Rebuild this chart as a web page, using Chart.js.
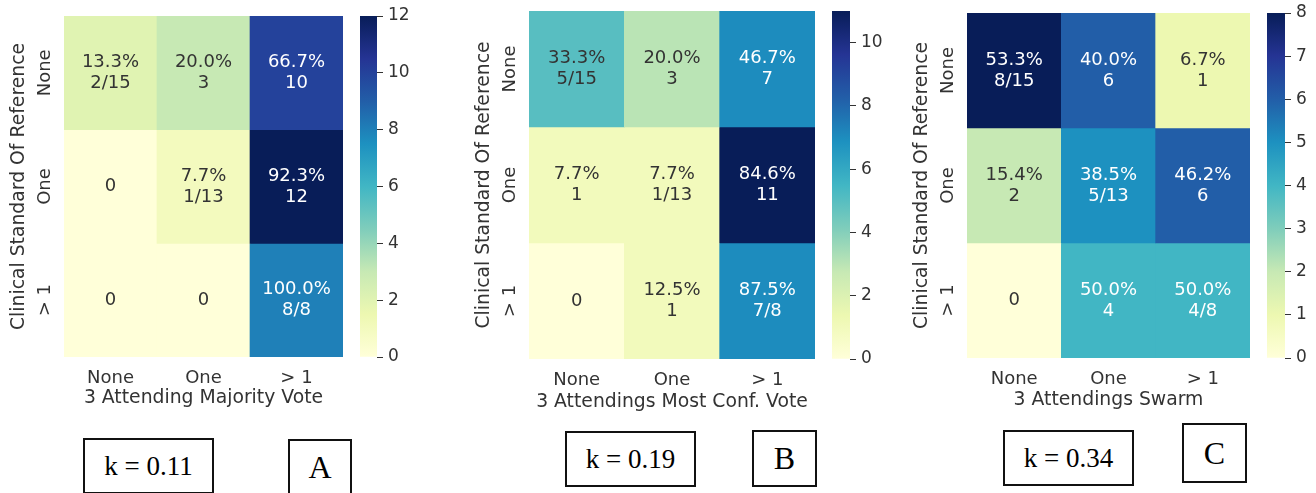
<!DOCTYPE html>
<html>
<head>
<meta charset="utf-8">
<script src="https://cdn.jsdelivr.net/npm/chart.js@4.4.1/dist/chart.umd.min.js"></script>
<style>
html, body { margin: 0; padding: 0; background: #fff; }
body { width: 1316px; height: 493px; position: relative; overflow: hidden; }
canvas { position: absolute; }
.box { position: absolute; box-sizing: border-box; border: 2px solid #111; background: #fff;
  font-family: "Liberation Serif", "Times New Roman", serif; color: #000;
  display: flex; align-items: center; justify-content: center; }
</style>
</head>
<body>
<canvas id="hA"></canvas><canvas id="cA"></canvas>
<canvas id="hB"></canvas><canvas id="cB"></canvas>
<canvas id="hC"></canvas><canvas id="cC"></canvas>
<div class="box" id="kA"></div><div class="box" id="lA"></div>
<div class="box" id="kB"></div><div class="box" id="lB"></div>
<div class="box" id="kC"></div><div class="box" id="lC"></div>
<script>
// ---------------- DATA ----------------
const xCategories = ['None', 'One', '> 1'];
const yCategories = ['None', 'One', '> 1'];

const countsA = [[2, 3, 10], [0, 1, 12], [0, 0, 8]];
const countsB = [[5, 3, 7], [1, 1, 11], [0, 1, 7]];
const countsC = [[8, 6, 1], [2, 5, 6], [0, 4, 4]];

const annotA = [['13.3%\n2/15', '20.0%\n3', '66.7%\n10'], ['0', '7.7%\n1/13', '92.3%\n12'], ['0', '0', '100.0%\n8/8']];
const annotB = [['33.3%\n5/15', '20.0%\n3', '46.7%\n7'], ['7.7%\n1', '7.7%\n1/13', '84.6%\n11'], ['0', '12.5%\n1', '87.5%\n7/8']];
const annotC = [['53.3%\n8/15', '40.0%\n6', '6.7%\n1'], ['15.4%\n2', '38.5%\n5/13', '46.2%\n6'], ['0', '50.0%\n4', '50.0%\n4/8']];

const colorbarMax = [12, 11, 8];
const colorbarStep = [2, 2, 1];

const xTitles = ['3 Attending Majority Vote', '3 Attendings Most Conf. Vote', '3 Attendings Swarm'];
const yTitle = 'Clinical Standard Of Reference';
const kappaLabels = ['k = 0.11', 'k = 0.19', 'k = 0.34'];
const panelLetters = ['A', 'B', 'C'];

// ---------------- LAYOUT / STYLE ----------------
const ylgnbu = ['#ffffd9', '#edf8b1', '#c7e9b4', '#7fcdbb', '#41b6c4', '#1d91c0', '#225ea8', '#253494', '#081d58'];
const textDark = '#333333';
const fontFamily = '"DejaVu Sans", "Liberation Sans", sans-serif';

const panels = [
  { id: 'A', counts: countsA, annot: annotA, heat: { l: 64, r: 343, t: 16, b: 357 }, cb: { l: 360, r: 377, t: 16, b: 357 }, titlePad: 10,
    kbox: { l: 83, t: 438, w: 131, h: 56 }, lbox: { l: 288, t: 439, w: 64, h: 56 } },
  { id: 'B', counts: countsB, annot: annotB, heat: { l: 529, r: 815, t: 11, b: 359 }, cb: { l: 832, r: 850, t: 11, b: 359 }, titlePad: 8,
    kbox: { l: 565, t: 431, w: 131, h: 56 }, lbox: { l: 752, t: 430, w: 65, h: 57 } },
  { id: 'C', counts: countsC, annot: annotC, heat: { l: 967, r: 1250, t: 13, b: 358 }, cb: { l: 1267, r: 1285, t: 13, b: 358 }, titlePad: 9,
    kbox: { l: 1003, t: 430, w: 131, h: 56 }, lbox: { l: 1182, t: 423, w: 65, h: 60 } }
];

function hexToRgb(h) {
  return [parseInt(h.slice(1, 3), 16), parseInt(h.slice(3, 5), 16), parseInt(h.slice(5, 7), 16)];
}
const cmapRgb = ylgnbu.map(hexToRgb);
function cmap(t) {
  t = Math.max(0, Math.min(1, t));
  const p = t * (cmapRgb.length - 1);
  const i = Math.min(Math.floor(p), cmapRgb.length - 2);
  const f = p - i;
  const a = cmapRgb[i], b = cmapRgb[i + 1];
  return [0, 1, 2].map(k => Math.round(a[k] + (b[k] - a[k]) * f));
}
function rgbStr(c) { return 'rgb(' + c[0] + ',' + c[1] + ',' + c[2] + ')'; }
function luminance(c) {
  const lin = c.map(v => { v /= 255; return v <= 0.03928 ? v / 12.92 : Math.pow((v + 0.055) / 1.055, 2.4); });
  return 0.2126 * lin[0] + 0.7152 * lin[1] + 0.0722 * lin[2];
}

const annotPlugin = {
  id: 'cellAnnot',
  afterDatasetsDraw(chart) {
    const ctx = chart.ctx;
    ctx.save();
    ctx.font = '18px ' + fontFamily;
    ctx.textAlign = 'center';
    ctx.textBaseline = 'middle';
    chart.data.datasets.forEach((ds, r) => {
      const meta = chart.getDatasetMeta(r);
      meta.data.forEach((bar, j) => {
        const p = bar.getCenterPoint();
        const lines = ds.annot[j].split('\n');
        ctx.fillStyle = ds.textColors[j];
        const lh = 21;
        lines.forEach((ln, k) => ctx.fillText(ln, p.x, p.y + (k - (lines.length - 1) / 2) * lh));
      });
    });
    ctx.restore();
  }
};

function placeCanvas(el, left, top, w, h) {
  el.width = w; el.height = h;
  el.style.left = left + 'px'; el.style.top = top + 'px';
  el.style.width = w + 'px'; el.style.height = h + 'px';
}

panels.forEach((pn, idx) => {
  const vmax = colorbarMax[idx];
  // --- heatmap ---
  const padTop = 20, yAxisW = 64, xAxisH = 62, padRight = 2;
  const hw = pn.heat.r - pn.heat.l, hh = pn.heat.b - pn.heat.t;
  const hEl = document.getElementById('h' + pn.id);
  placeCanvas(hEl, pn.heat.l - yAxisW, pn.heat.t - padTop, yAxisW + hw + padRight, padTop + hh + xAxisH);

  const datasets = yCategories.map((yc, r) => {
    const cols = pn.counts[r].map(v => cmap(v / vmax));
    return {
      label: yc,
      data: xCategories.map(() => [r, r + 1]),
      backgroundColor: cols.map(rgbStr),
      textColors: cols.map(c => luminance(c) > 0.408 ? textDark : '#ffffff'),
      annot: pn.annot[r],
      borderWidth: 0,
      grouped: false,
      barPercentage: 1,
      categoryPercentage: 1,
      xAxisID: 'x',
      yAxisID: 'y'
    };
  });

  new Chart(hEl, {
    type: 'bar',
    data: { labels: xCategories, datasets },
    plugins: [annotPlugin],
    options: {
      responsive: false,
      animation: false,
      events: [],
      layout: { padding: { top: padTop, right: padRight, left: 0, bottom: 0 } },
      plugins: { legend: { display: false }, tooltip: { enabled: false } },
      scales: {
        x: {
          type: 'category', offset: true,
          grid: { display: false }, border: { display: false },
          ticks: { color: textDark, font: { family: fontFamily, size: 18 }, padding: 3, maxRotation: 0, autoSkip: false },
          title: { display: true, text: xTitles[idx], color: textDark, font: { family: fontFamily, size: 18.8 }, padding: { top: 0, bottom: pn.titlePad } },
          afterFit: s => { s.height = xAxisH; }
        },
        y: { type: 'linear', min: 0, max: 3, reverse: true, display: false },
        yl: {
          type: 'category', labels: yCategories, position: 'left', offset: true,
          grid: { display: false }, border: { display: false },
          ticks: { color: textDark, font: { family: fontFamily, size: 18 }, minRotation: 90, maxRotation: 90, crossAlign: 'center', padding: -13, autoSkip: false },
          title: { display: true, text: yTitle, color: textDark, font: { family: fontFamily, size: 18.8 }, padding: { top: 8, bottom: 0 } },
          afterFit: s => { s.width = yAxisW; }
        }
      }
    }
  });

  // --- colorbar ---
  const cbPad = 20, cbAxisW = 50;
  const cw = pn.cb.r - pn.cb.l, ch = pn.cb.b - pn.cb.t;
  const cEl = document.getElementById('c' + pn.id);
  placeCanvas(cEl, pn.cb.l, pn.cb.t - cbPad, cw + cbAxisW, ch + 2 * cbPad);
  new Chart(cEl, {
    type: 'bar',
    data: {
      labels: ['colorbar'],
      datasets: [{
        data: [[0, vmax]],
        backgroundColor: (c) => {
          const chart = c.chart; const a = chart.chartArea;
          if (!a) return ylgnbu[4];
          const g = chart.ctx.createLinearGradient(0, a.bottom, 0, a.top);
          ylgnbu.forEach((col, i) => g.addColorStop(i / (ylgnbu.length - 1), col));
          return g;
        },
        borderWidth: 0, barPercentage: 1, categoryPercentage: 1
      }]
    },
    options: {
      responsive: false,
      animation: false,
      events: [],
      layout: { padding: { top: cbPad, bottom: cbPad, left: 0, right: 0 } },
      plugins: { legend: { display: false }, tooltip: { enabled: false } },
      scales: {
        x: { display: false },
        y: {
          position: 'right', min: 0, max: vmax,
          ticks: { stepSize: colorbarStep[idx], includeBounds: false, padding: 5, color: textDark, font: { family: fontFamily, size: 17 } },
          grid: { drawOnChartArea: false, drawTicks: true, tickLength: 6, color: textDark, lineWidth: 1 },
          border: { display: false },
          afterFit: s => { s.width = cbAxisW; }
        }
      }
    }
  });

  // --- annotation boxes ---
  const kEl = document.getElementById('k' + pn.id);
  kEl.textContent = kappaLabels[idx];
  Object.assign(kEl.style, { left: pn.kbox.l + 'px', top: pn.kbox.t + 'px', width: pn.kbox.w + 'px', height: pn.kbox.h + 'px', fontSize: '27px' });
  const lEl = document.getElementById('l' + pn.id);
  lEl.textContent = panelLetters[idx];
  Object.assign(lEl.style, { left: pn.lbox.l + 'px', top: pn.lbox.t + 'px', width: pn.lbox.w + 'px', height: pn.lbox.h + 'px', fontSize: '32px' });
});
</script>
</body>
</html>
